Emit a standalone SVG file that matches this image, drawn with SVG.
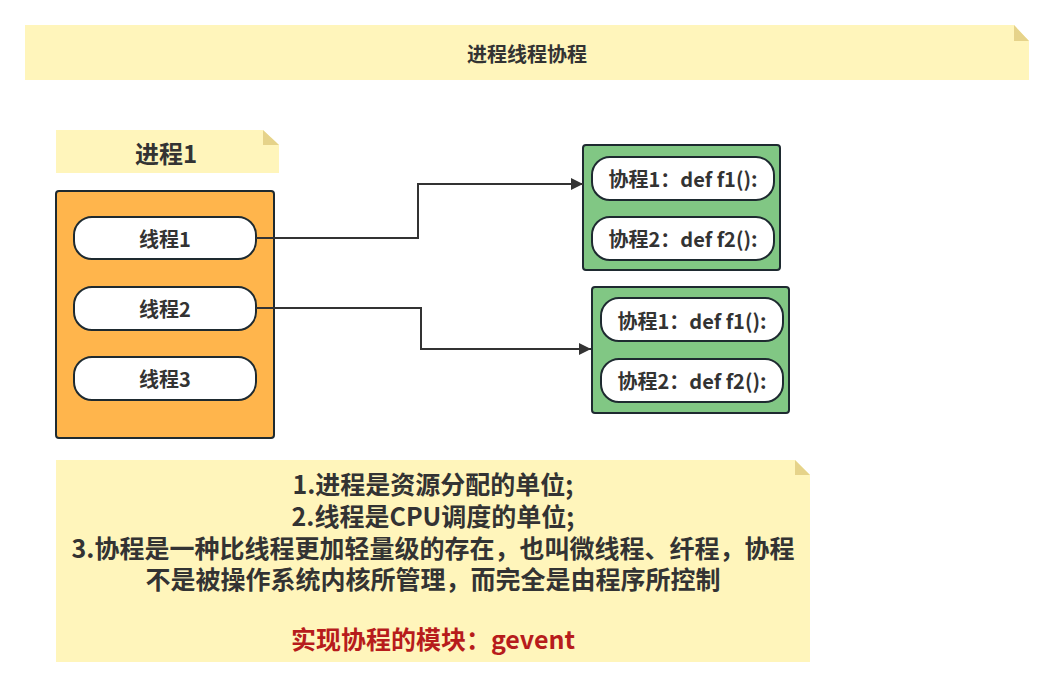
<svg xmlns="http://www.w3.org/2000/svg" width="1054" height="688" viewBox="0 0 1054 688">
<style>
.t{font-family:"Microsoft YaHei","Noto Sans CJK SC","Noto Sans",sans-serif;font-weight:bold;fill:#333333;text-anchor:middle;dominant-baseline:central}
.note{fill:#FFF5BB}
.fold{fill:#E6D38A}
.pill{fill:#FFFFFF;stroke:#1E2A30;stroke-width:2}
.box{stroke:#1E2A30;stroke-width:2}
.conn{fill:none;stroke:#333333;stroke-width:2}
</style>
<defs>
<marker id="arr" viewBox="0 0 12 12" refX="12" refY="6" markerWidth="12" markerHeight="12" markerUnits="userSpaceOnUse" orient="auto">
<path d="M0,0 L12,6 L0,12 Z" fill="#333333"/>
</marker>
</defs>
<rect width="1054" height="688" fill="#FFFFFF"/>
<g id="title">
<path class="note" d="M25,25 H1014 L1029,41 V80 H25 Z"/>
<path class="fold" d="M1014,25 L1029,41 H1014 Z"/>
<text class="t" x="527" y="53" font-size="20">进程线程协程</text>
</g>
<g id="process-label">
<path class="note" d="M56,130 H263 L279,145 V173 H56 Z"/>
<path class="fold" d="M263,130 L279,145 H263 Z"/>
<text class="t" x="166" y="152" font-size="24">进程1</text>
</g>
<g id="process1">
<rect class="box" x="56" y="191" width="218" height="247" rx="3" fill="#FFB54C"/>
</g>
<g id="thread1">
<rect class="pill" x="74" y="217" width="182" height="42" rx="18"/>
<text class="t" x="165" y="238" font-size="20">线程1</text>
</g>
<g id="thread2">
<rect class="pill" x="74" y="287" width="182" height="43" rx="18"/>
<text class="t" x="165" y="308" font-size="20">线程2</text>
</g>
<g id="thread3">
<rect class="pill" x="74" y="357" width="182" height="43" rx="18"/>
<text class="t" x="165" y="378" font-size="20">线程3</text>
</g>
<g id="coroutines1">
<rect class="box" x="583" y="145" width="197" height="125" rx="3" fill="#81C784"/>
<rect class="pill" x="592" y="157" width="182" height="43" rx="18"/>
<text class="t" x="683" y="178" font-size="20">协程1：def f1():</text>
<rect class="pill" x="592" y="217" width="182" height="43" rx="18"/>
<text class="t" x="683" y="238" font-size="20">协程2：def f2():</text>
</g>
<g id="coroutines2">
<rect class="box" x="592" y="287" width="197" height="126" rx="3" fill="#81C784"/>
<rect class="pill" x="601" y="298" width="182" height="43" rx="18"/>
<text class="t" x="692" y="320" font-size="20">协程1：def f1():</text>
<rect class="pill" x="601" y="359" width="182" height="43" rx="18"/>
<text class="t" x="692" y="380" font-size="20">协程2：def f2():</text>
</g>
<g id="connectors">
<path class="conn" d="M256,238 H418 V184 H583" marker-end="url(#arr)"/>
<path class="conn" d="M256,308 H421 V349 H591" marker-end="url(#arr)"/>
</g>
<g id="summary">
<path class="note" d="M56,460 H795 L810,475 V662 H56 Z"/>
<path class="fold" d="M795,460 L810,475 H795 Z"/>
<text class="t" x="433" y="483" font-size="25">1.进程是资源分配的单位;</text>
<text class="t" x="433" y="515" font-size="25">2.线程是CPU调度的单位;</text>
<text class="t" x="433" y="547" font-size="25">3.协程是一种比线程更加轻量级的存在，也叫微线程、纤程，协程</text>
<text class="t" x="433" y="578" font-size="25">不是被操作系统内核所管理，而完全是由程序所控制</text>
<text class="t" x="433" y="638" font-size="25" style="fill:#B71C1C">实现协程的模块：gevent</text>
</g>
</svg>
